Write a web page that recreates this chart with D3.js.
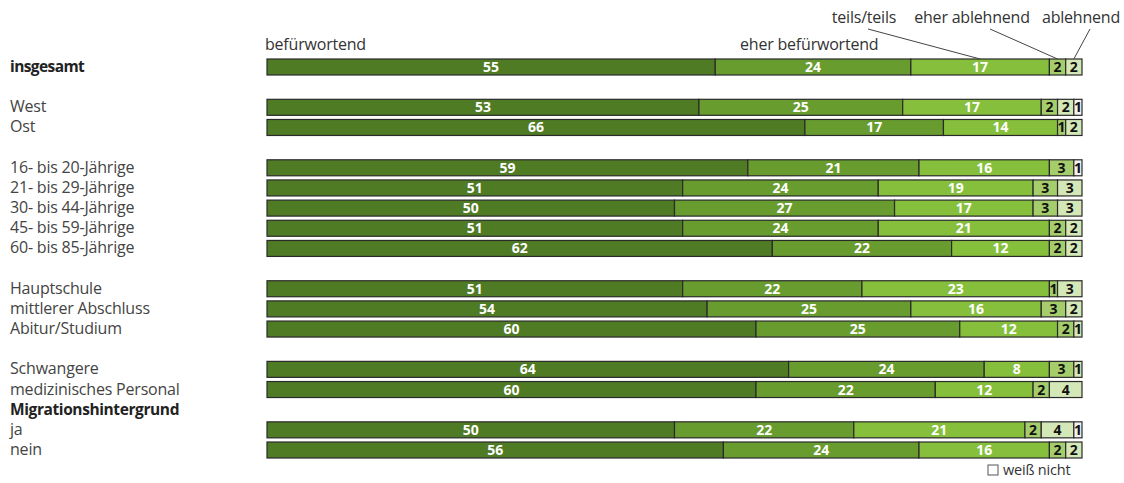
<!DOCTYPE html>
<html>
<head>
<meta charset="utf-8">
<script src="https://cdn.jsdelivr.net/npm/d3@7"></script>
<style>
  body { margin: 0; background: #fff; }
  text { font-family: "Open Sans", Lato, sans-serif; }
</style>
</head>
<body>
<svg id="chart" width="1124" height="483"></svg>
<script>
'use strict'

// row labels, with their vertical slot (gaps between groups)
const rows = ['insgesamt', 'West', 'Ost',
    '16- bis 20-Jährige', '21- bis 29-Jährige', '30- bis 44-Jährige', '45- bis 59-Jährige', '60- bis 85-Jährige',
    'Hauptschule', 'mittlerer Abschluss', 'Abitur/Studium',
    'Schwangere', 'medizinisches Personal', 'ja', 'nein']
const slots = [0, 2, 3, 5, 6, 7, 8, 9, 11, 12, 13, 15, 16, 18, 19]
const boldRows = ['insgesamt']

const categories = ['befürwortend', 'eher befürwortend', 'teils/teils', 'eher ablehnend', 'ablehnend', 'weiß nicht']

const befuerwortend     = [55, 53, 66, 59, 51, 50, 51, 62, 51, 54, 60, 64, 60, 50, 56]
const eherBefuerwortend = [24, 25, 17, 21, 24, 27, 24, 22, 22, 25, 25, 24, 22, 22, 24]
const teilsTeils        = [17, 17, 14, 16, 19, 17, 21, 12, 23, 16, 12,  8, 12, 21, 16]
const eherAblehnend     = [ 2,  2,  1,  3,  3,  3,  2,  2,  1,  3,  2,  3,  2,  2,  2]
const ablehnend         = [ 2,  2,  2,  0,  3,  3,  2,  2,  3,  2,  1,  1,  4,  4,  2]
const weissNicht        = [ 0,  1,  0,  1,  0,  0,  0,  0,  0,  0,  0,  0,  0,  1,  0]

const series = [befuerwortend, eherBefuerwortend, teilsTeils, eherAblehnend, ablehnend, weissNicht]
const colors = ['#4f7b25', '#689c2e', '#86bf3b', '#a6cd6c', '#d3e7b7', '#f2f2f2']
const textColors = ['#fff', '#fff', '#fff', '#111', '#111', '#111']

const svg = d3.select('#chart')

const x = d3.scaleLinear().domain([0, 100]).range([267, 1082])
const y = d3.scaleLinear().domain([0, 19]).range([67, 450])
const barH = 16

const table = rows.map(function (r, i) {
    let acc = 0
    const segs = series.map(function (s, k) {
        const seg = {k: k, x0: acc, x1: acc + s[i], v: s[i]}
        acc += s[i]
        return seg
    }).filter(function (d) { return d.v > 0 })
    return {label: r, slot: slots[i], segs: segs}
})

// row labels
svg.append('g').selectAll('text')
    .data(table)
    .join('text')
    .attr('x', 10)
    .attr('y', function (d) { return y(d.slot) + 5 })
    .attr('font-size', function (d) { return boldRows.includes(d.label) ? 15.5 : 16 })
    .attr('fill', function (d) { return boldRows.includes(d.label) ? '#222' : '#444' })
    .attr('font-weight', function (d) { return boldRows.includes(d.label) ? 'bold' : null })
    .attr('letter-spacing', function (d) { return boldRows.includes(d.label) ? -0.6 : -0.2 })
    .text(function (d) { return d.label })

svg.append('text')
    .attr('x', 10).attr('y', y(17) + 5)
    .attr('font-size', 15.5).attr('font-weight', 'bold').attr('fill', '#222')
    .attr('letter-spacing', -0.4)
    .text('Migrationshintergrund')

const rowG = svg.append('g').selectAll('g')
    .data(table)
    .join('g')
    .attr('transform', function (d) { return 'translate(0,' + (y(d.slot) - barH / 2) + ')' })

rowG.selectAll('rect')
    .data(function (d) { return d.segs })
    .join('rect')
    .attr('x', function (d) { return x(d.x0) })
    .attr('width', function (d) { return x(d.x1) - x(d.x0) })
    .attr('height', barH)
    .attr('fill', function (d) { return colors[d.k] })
    .attr('stroke', '#2a2a2a')
    .attr('stroke-width', 1.2)

rowG.selectAll('text')
    .data(function (d) { return d.segs })
    .join('text')
    .attr('x', function (d) { return (x(d.x0) + x(d.x1)) / 2 })
    .attr('y', barH / 2 + 5)
    .attr('text-anchor', 'middle')
    .attr('font-size', 14)
    .attr('font-weight', 'bold')
    .attr('fill', function (d) { return textColors[d.k] })
    .text(function (d) { return d.v })

// header labels
const head = svg.append('g').attr('font-size', 16).attr('letter-spacing', -0.2)
head.append('text').attr('x', 265).attr('y', 50).attr('fill', '#333').text(categories[0])
head.append('text').attr('x', 740).attr('y', 50).attr('fill', '#333').text(categories[1])
head.append('text').attr('x', 864).attr('y', 23).attr('text-anchor', 'middle').attr('fill', '#333').text(categories[2])
head.append('text').attr('x', 972).attr('y', 23).attr('text-anchor', 'middle').attr('fill', '#333').text(categories[3])
head.append('text').attr('x', 1081).attr('y', 23).attr('text-anchor', 'middle').attr('fill', '#333').text(categories[4])

// leader lines to the first bar
const first = table[0].segs
const leaders = [
    {x1: 868, y1: 29, seg: first[2]},
    {x1: 990, y1: 29, seg: first[3]},
    {x1: 1090, y1: 29, seg: first[4]},
]
svg.append('g').selectAll('line')
    .data(leaders)
    .join('line')
    .attr('x1', function (d) { return d.x1 })
    .attr('y1', function (d) { return d.y1 })
    .attr('x2', function (d) { return (x(d.seg.x0) + x(d.seg.x1)) / 2 })
    .attr('y2', y(0) - barH / 2)
    .attr('stroke', '#444')
    .attr('stroke-width', 1)

// legend
svg.append('rect')
    .attr('x', 988).attr('y', 465).attr('width', 10).attr('height', 10)
    .attr('fill', '#fff').attr('stroke', '#555')
svg.append('text')
    .attr('x', 1003).attr('y', 475)
    .attr('font-size', 14.5).attr('fill', '#333').attr('letter-spacing', -0.2)
    .text(categories[5])
</script>
</body>
</html>
